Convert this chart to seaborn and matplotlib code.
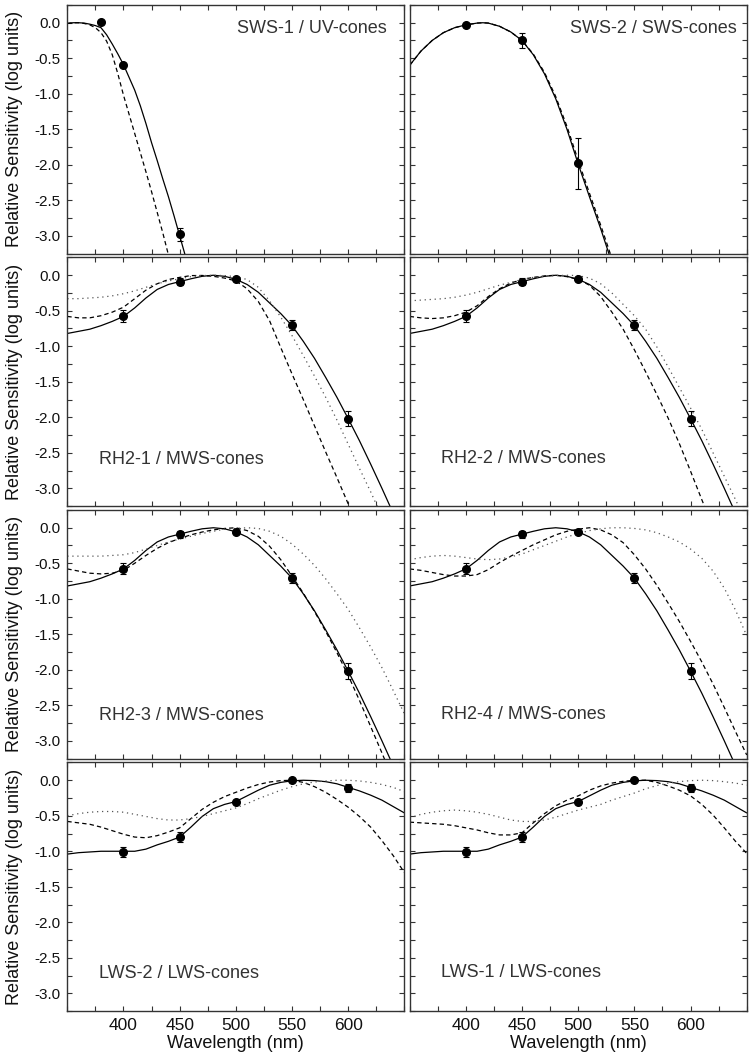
import matplotlib
matplotlib.use("Agg")
import matplotlib.pyplot as plt
from matplotlib.ticker import MultipleLocator, FormatStrFormatter
import seaborn as sns

# ---------------- data ----------------
WL = [350, 360, 370, 380, 390, 400, 410, 420, 430, 440, 450, 460, 470, 480, 490,
      500, 510, 520, 530, 540, 550, 560, 570, 580, 590, 600, 610, 620, 630, 640, 650]

# SWS-1 / UV-cones
sws1_x = [350, 355, 360, 365, 370, 375, 380, 385, 390, 395, 400, 405, 410, 415,
          420, 425, 430, 435, 440, 445, 450, 455, 460]
sws1_solid = [-0.01, 0.0, 0.0, -0.005, -0.02, -0.04, -0.07, -0.17, -0.30, -0.44, -0.59,
              -0.77, -0.95, -1.17, -1.42, -1.69, -1.94, -2.20, -2.45, -2.72, -3.0, -3.28, -3.55]
sws1_dash_x = [350, 355, 360, 365, 370, 375, 380, 385, 390, 395, 400, 405, 410, 415,
               420, 425, 430, 435, 440, 445]
sws1_dash = [-0.01, 0.0, 0.0, -0.01, -0.03, -0.07, -0.14, -0.26, -0.45, -0.72, -1.02,
             -1.29, -1.56, -1.83, -2.10, -2.38, -2.67, -2.96, -3.27, -3.55]
sws1_pts_x = [380, 400, 450]
sws1_pts_y = [0.01, -0.59, -2.98]
sws1_pts_err = [0.0, 0.0, 0.09]

# SWS-2 / SWS-cones
sws2_x = [350, 360, 370, 380, 390, 400, 410, 415, 420, 430, 440, 450, 460, 470, 480,
          490, 500, 510, 520, 530, 540]
sws2_solid = [-0.60, -0.40, -0.25, -0.14, -0.07, -0.03, -0.005, 0.0, -0.005, -0.05, -0.13,
              -0.25, -0.45, -0.72, -1.07, -1.50, -1.99, -2.45, -2.90, -3.38, -3.85]
sws2_dash = [-0.60, -0.40, -0.25, -0.14, -0.07, -0.03, -0.005, 0.0, -0.005, -0.05, -0.13,
             -0.25, -0.44, -0.70, -1.04, -1.46, -1.94, -2.40, -2.85, -3.32, -3.80]
sws2_pts_x = [400, 450, 500]
sws2_pts_y = [-0.03, -0.25, -1.98]
sws2_pts_err = [0.0, 0.11, 0.36]

# MWS-cone fit (solid, shared by the RH2 panels)
mws_solid = [-0.82, -0.79, -0.76, -0.71, -0.65, -0.58, -0.46, -0.32, -0.20, -0.13, -0.09,
             -0.05, -0.015, 0.0, -0.015, -0.057, -0.13, -0.24, -0.39, -0.54, -0.71, -0.93,
             -1.17, -1.44, -1.72, -2.02, -2.33, -2.66, -3.0, -3.35, -3.7]
mws_pts_x = [400, 450, 500, 550, 600]
mws_pts_y = [-0.575, -0.09, -0.055, -0.705, -2.02]
mws_pts_err = [0.08, 0.05, 0.02, 0.07, 0.11]

rh21_dash = [-0.58, -0.60, -0.60, -0.57, -0.52, -0.45, -0.33, -0.21, -0.12, -0.06, -0.03,
             -0.005, -0.003, -0.015, -0.04, -0.08, -0.19, -0.37, -0.64, -1.02, -1.39, -1.75,
             -2.12, -2.49, -2.85, -3.22, -3.6, -3.95, -4.3, -4.6, -4.9]
rh21_dot = [-0.33, -0.33, -0.32, -0.31, -0.29, -0.26, -0.22, -0.17, -0.12, -0.08, -0.05,
            -0.02, -0.005, 0.0, -0.005, -0.02, -0.06, -0.17, -0.36, -0.59, -0.85, -1.13,
            -1.42, -1.72, -2.04, -2.38, -2.72, -3.05, -3.4, -3.75, -4.1]
rh22_dash = [-0.58, -0.60, -0.61, -0.60, -0.57, -0.52, -0.43, -0.30, -0.19, -0.11, -0.06,
             -0.03, -0.01, 0.0, -0.02, -0.06, -0.14, -0.30, -0.52, -0.76, -1.05, -1.36,
             -1.68, -2.01, -2.37, -2.76, -3.16, -3.55, -3.9, -4.2, -4.5]
rh22_dot = [-0.36, -0.35, -0.34, -0.33, -0.31, -0.28, -0.24, -0.19, -0.14, -0.10, -0.06,
            -0.03, -0.015, -0.005, 0.0, -0.005, -0.04, -0.12, -0.25, -0.41, -0.57, -0.76,
            -1.01, -1.29, -1.58, -1.87, -2.17, -2.50, -2.83, -3.16, -3.5]
rh23_dash = [-0.58, -0.61, -0.64, -0.65, -0.64, -0.60, -0.50, -0.39, -0.29, -0.21, -0.15,
             -0.10, -0.06, -0.03, -0.01, 0.0, -0.04, -0.12, -0.26, -0.45, -0.68, -0.92,
             -1.18, -1.46, -1.76, -2.08, -2.43, -2.80, -3.17, -3.55, -3.9]
rh23_dot = [-0.40, -0.40, -0.40, -0.40, -0.39, -0.38, -0.35, -0.30, -0.25, -0.20, -0.16,
            -0.12, -0.08, -0.05, -0.02, -0.01, 0.0, -0.01, -0.05, -0.12, -0.23, -0.37,
            -0.53, -0.72, -0.93, -1.15, -1.41, -1.68, -1.97, -2.29, -2.62]
rh24_dash = [-0.58, -0.60, -0.63, -0.66, -0.68, -0.68, -0.66, -0.59, -0.49, -0.40, -0.32,
             -0.24, -0.17, -0.10, -0.05, -0.02, 0.0, -0.03, -0.10, -0.21, -0.38, -0.58,
             -0.81, -1.06, -1.32, -1.60, -1.89, -2.20, -2.53, -2.87, -3.20]
rh24_dot = [-0.45, -0.42, -0.40, -0.39, -0.40, -0.42, -0.44, -0.45, -0.44, -0.41, -0.37,
            -0.31, -0.25, -0.19, -0.13, -0.08, -0.04, -0.015, 0.0, 0.0, -0.01, -0.03,
            -0.07, -0.13, -0.20, -0.30, -0.43, -0.61, -0.85, -1.16, -1.52]

# LWS-cone fit (solid, shared by the LWS panels)
lws_solid = [-1.04, -1.02, -1.01, -1.0, -1.0, -1.0, -1.0, -0.97, -0.91, -0.86, -0.80,
             -0.66, -0.51, -0.40, -0.34, -0.30, -0.22, -0.14, -0.07, -0.03, -0.008, 0.0,
             -0.005, -0.02, -0.05, -0.10, -0.15, -0.21, -0.28, -0.37, -0.46]
lws_pts_x = [400, 450, 500, 550, 600]
lws_pts_y = [-1.01, -0.80, -0.31, 0.0, -0.11]
lws_pts_err = [0.07, 0.07, 0.02, 0.0, 0.06]

lws2_dash = [-0.58, -0.60, -0.62, -0.66, -0.71, -0.76, -0.80, -0.81, -0.78, -0.73, -0.67,
             -0.54, -0.41, -0.31, -0.23, -0.17, -0.11, -0.06, -0.025, -0.005, 0.0, -0.03,
             -0.09, -0.17, -0.27, -0.38, -0.51, -0.66, -0.85, -1.06, -1.30]
lws2_dot = [-0.50, -0.47, -0.45, -0.44, -0.44, -0.45, -0.48, -0.51, -0.54, -0.56, -0.56,
            -0.54, -0.51, -0.47, -0.43, -0.39, -0.33, -0.26, -0.20, -0.14, -0.09, -0.05,
            -0.025, -0.01, 0.0, 0.0, -0.01, -0.03, -0.06, -0.10, -0.16]
lws1_dash = [-0.59, -0.60, -0.61, -0.62, -0.64, -0.67, -0.70, -0.74, -0.77, -0.77, -0.74,
             -0.60, -0.47, -0.36, -0.28, -0.22, -0.14, -0.08, -0.04, -0.015, 0.0, 0.0,
             -0.03, -0.08, -0.14, -0.22, -0.34, -0.49, -0.67, -0.86, -1.03]
lws1_dot = [-0.53, -0.48, -0.45, -0.43, -0.42, -0.43, -0.45, -0.48, -0.52, -0.56, -0.58,
            -0.58, -0.56, -0.52, -0.47, -0.42, -0.38, -0.34, -0.28, -0.23, -0.18, -0.12,
            -0.075, -0.04, -0.02, -0.005, 0.0, -0.005, -0.02, -0.04, -0.07]

titles = ["SWS-1 / UV-cones", "SWS-2 / SWS-cones",
          "RH2-1 / MWS-cones", "RH2-2 / MWS-cones",
          "RH2-3 / MWS-cones", "RH2-4 / MWS-cones",
          "LWS-2 / LWS-cones", "LWS-1 / LWS-cones"]

# ---------------- style ----------------
sns.set_theme(style="ticks")
plt.rcParams["font.family"] = ["Liberation Sans", "DejaVu Sans"]
plt.rcParams["axes.unicode_minus"] = False

DASH = (0, (3.5, 2.5))
DOT = (0, (1, 3))
LW = 0.9

fig, axes = plt.subplots(4, 2, figsize=(7.52, 10.61), dpi=100, sharex=True, sharey=True)
fig.subplots_adjust(left=0.0895, right=0.993, top=0.9953, bottom=0.0471,
                    wspace=0.0157, hspace=0.016)


def curve(ax, x, y, style):
    if style == "solid":
        sns.lineplot(x=x, y=y, ax=ax, color="black", linewidth=LW, estimator=None)
    elif style == "dash":
        sns.lineplot(x=x, y=y, ax=ax, color="black", linewidth=LW, linestyle=DASH,
                     estimator=None)
    else:
        sns.lineplot(x=x, y=y, ax=ax, color="#555555", linewidth=LW, linestyle=DOT,
                     estimator=None)


def points(ax, x, y, e):
    ax.errorbar(x, y, yerr=e, fmt="o", color="black", markersize=5.5, elinewidth=0.8,
                capsize=2.5, capthick=0.8, zorder=5)


panels = [
    [(sws1_x, sws1_solid, "solid"), (sws1_dash_x, sws1_dash, "dash")],
    [(sws2_x, sws2_solid, "solid"), (sws2_x, sws2_dash, "dash")],
    [(WL, mws_solid, "solid"), (WL, rh21_dash, "dash"), (WL, rh21_dot, "dot")],
    [(WL, mws_solid, "solid"), (WL, rh22_dash, "dash"), (WL, rh22_dot, "dot")],
    [(WL, mws_solid, "solid"), (WL, rh23_dash, "dash"), (WL, rh23_dot, "dot")],
    [(WL, mws_solid, "solid"), (WL, rh24_dash, "dash"), (WL, rh24_dot, "dot")],
    [(WL, lws_solid, "solid"), (WL, lws2_dash, "dash"), (WL, lws2_dot, "dot")],
    [(WL, lws_solid, "solid"), (WL, lws1_dash, "dash"), (WL, lws1_dot, "dot")],
]
pts = [
    (sws1_pts_x, sws1_pts_y, sws1_pts_err),
    (sws2_pts_x, sws2_pts_y, sws2_pts_err),
    (mws_pts_x, mws_pts_y, mws_pts_err),
    (mws_pts_x, mws_pts_y, mws_pts_err),
    (mws_pts_x, mws_pts_y, mws_pts_err),
    (mws_pts_x, mws_pts_y, mws_pts_err),
    (lws_pts_x, lws_pts_y, lws_pts_err),
    (lws_pts_x, lws_pts_y, lws_pts_err),
]
label_pos = [
    (0.947, 0.888, "right"), (0.971, 0.888, "right"),
    (0.0955, 0.170, "left"), (0.094, 0.174, "left"),
    (0.0955, 0.154, "left"), (0.094, 0.161, "left"),
    (0.0955, 0.131, "left"), (0.094, 0.138, "left"),
]

for i, ax in enumerate(axes.flat):
    for x, y, st in panels[i]:
        curve(ax, x, y, st)
    px, py, pe = pts[i]
    points(ax, px, py, pe)
    lx, ly, ha = label_pos[i]
    ax.text(lx, ly, titles[i], transform=ax.transAxes, ha=ha, va="baseline",
            fontsize=13, color="#333333")

    ax.set_xlim(350, 650)
    ax.set_ylim(-3.25, 0.25)
    ax.xaxis.set_major_locator(MultipleLocator(50))
    ax.xaxis.set_minor_locator(MultipleLocator(25))
    ax.yaxis.set_major_locator(MultipleLocator(0.5))
    ax.yaxis.set_minor_locator(MultipleLocator(0.25))
    ax.yaxis.set_major_formatter(FormatStrFormatter("%.1f"))
    ax.tick_params(which="both", direction="in", top=True, right=True,
                   length=3.5, width=0.8, color="#333333")
    ax.tick_params(axis="y", labelsize=11, pad=5, labelcolor="#111111")
    ax.tick_params(axis="x", labelsize=12.5, pad=5, labelcolor="#111111")
    for s in ax.spines.values():
        s.set_linewidth(1.0)
        s.set_color("#333333")
    ax.set_xlabel("")
    ax.set_ylabel("")

for r in range(4):
    ax = axes[r, 0]
    ax.set_ylabel("Relative Sensitivity (log units)", fontsize=13, color="#111111")
    ax.yaxis.set_label_coords(-0.1316, 0.5)
for c in range(2):
    ax = axes[3, c]
    ax.set_xlabel("Wavelength (nm)", fontsize=13, color="#111111")
    ax.xaxis.set_label_coords(0.5, -0.095)

for ax in axes[3]:
    ax.set_xticks([400, 450, 500, 550, 600])

fig.savefig("out.png", dpi=100)
